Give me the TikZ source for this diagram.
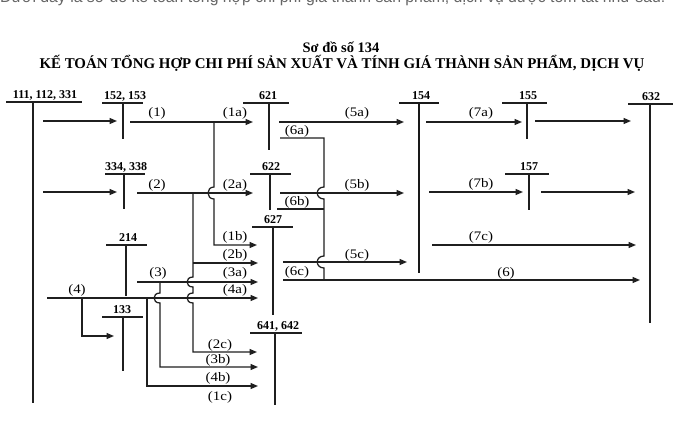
\documentclass[tikz,border=0pt]{standalone}
\usepackage{fontspec}
\setmainfont{Liberation Serif}
\newfontfamily\labfont{Liberation Serif}[FakeStretch=1.15]
\newfontfamily\acfont{Liberation Serif}
\newfontfamily\topfont{Liberation Sans}
\usetikzlibrary{arrows.meta}
\begin{document}
\begin{tikzpicture}[x=1pt,y=-1pt,
  ln/.style={line width=1.25pt, draw=black!88},
  thickln/.style={line width=2.4pt, draw=black!90},
  arr/.style={ln,-{Triangle[length=7.5pt,width=6pt]}},
  lab/.style={font=\labfont\fontsize{13}{13}\selectfont, inner sep=0pt},
  acc/.style={font=\acfont\bfseries\fontsize{12}{12}\selectfont, inner sep=0pt, anchor=base},
  ttl/.style={inner sep=0pt}]
\useasboundingbox (0,0) rectangle (683,423);
\fill[white] (0,0) rectangle (683,423);

% cut-off caption line at the top
\begin{scope}
\clip (0,0) rectangle (683,7);
\node[anchor=base west, inner sep=0pt, text=black!60, font=\topfont\fontsize{15.8}{15.8}\selectfont] (cap) at (0,2.5) {Dưới đây là sơ đồ kế toán tổng hợp chi phí giá thành sản phẩm, dịch vụ được tóm tắt như sau:};
\end{scope}

% titles
\node[ttl, font=\bfseries\fontsize{14.5}{14.5}\selectfont] (t1) at (341,47) {Sơ đồ số 134};
\node[ttl, font=\bfseries\fontsize{14.9}{14.9}\selectfont] (t2) at (342,63) {KẾ TOÁN TỔNG HỢP CHI PHÍ SẢN XUẤT VÀ TÍNH GIÁ THÀNH SẢN PHẨM, DỊCH VỤ};

% ---- T accounts
\node[acc] (a111) at (45,98) {111, 112, 331};
\draw[ln] (6,102) -- (82,102) (33,102) -- (33,403);
\node[acc] (a152) at (125,99) {152, 153};
\draw[ln] (102,103) -- (143,103) (123,103) -- (123,139);
\node[acc] (a334) at (126,170) {334, 338};
\draw[ln] (105,174) -- (145,174) (124,174) -- (124,209);
\node[acc] (a214) at (128,241) {214};
\draw[ln] (106,245) -- (147,245) (126,245) -- (126,296);
\node[acc] (a133) at (122,313) {133};
\draw[ln] (102,317) -- (143,317) (123,317) -- (123,371);
\node[acc] (a621) at (268,99) {621};
\draw[ln] (243,103) -- (289,103) (269,103) -- (269,150);
\node[acc] (a622) at (271,170) {622};
\draw[ln] (250,174) -- (291,174) (270,174) -- (270,210);
\node[acc] (a627) at (273,223) {627};
\draw[ln] (252,227) -- (293,227) (273,227) -- (273,315);
\node[acc] (a641) at (278,329) {641, 642};
\draw[ln] (250,333) -- (302,333) (275,333) -- (275,405);
\node[acc] (a154) at (421,99) {154};
\draw[thickln] (399,103) -- (439,103) (419,103) -- (419,273);
\node[acc] (a155) at (528,99) {155};
\draw[ln] (502,103) -- (547,103) (527,103) -- (527,139);
\node[acc] (a157) at (529,170) {157};
\draw[ln] (505,174) -- (549,174) (529,174) -- (529,210);
\node[acc] (a632) at (651,100) {632};
\draw[ln] (628,104) -- (673,104) (650,104) -- (650,323);

% ---- left side flows
\draw[arr] (43,121) -- (117,121);
\draw[arr] (43,192) -- (117,192);
% (1)
\draw[arr] (130,122) -- (253,122);
\draw[arr] (214,122) -- (214,187) .. controls (206,187) and (206,199) .. (214,199) -- (214,245) -- (257,245);
% (2)
\draw[arr] (137,193) -- (253,193);
\draw[arr] (193,193) -- (193,277) .. controls (185,277) and (185,287) .. (193,287) -- (193,293) .. controls (185,293) and (185,303) .. (193,303) -- (193,352) -- (257,352);
\draw[arr] (193,263) -- (258,263);
% (3)
\draw[arr] (137,282) -- (258,282);
\draw[arr] (160,282) -- (160,293) .. controls (152,293) and (152,303) .. (160,303) -- (160,367) -- (258,367);
% (4)
\draw[arr] (47,298) -- (258,298);
\draw[arr] (82,298) -- (82,336) -- (114,336);
\draw[arr] (147,298) -- (147,386) -- (258,386);

\node[lab] (l1) at (157,113) {(1)};
\node[lab] (l1a) at (235,113) {(1a)};
\node[lab] (l1b) at (235,237) {(1b)};
\node[lab] (l2) at (157,185) {(2)};
\node[lab] (l2a) at (235,185) {(2a)};
\node[lab] (l2b) at (235,255) {(2b)};
\node[lab] (l2c) at (220,345) {(2c)};
\node[lab] (l3) at (158,273) {(3)};
\node[lab] (l3a) at (235,273) {(3a)};
\node[lab] (l3b) at (218,360) {(3b)};
\node[lab] (l4) at (77,290) {(4)};
\node[lab] (l4a) at (235,290) {(4a)};
\node[lab] (l4b) at (218,378) {(4b)};
\node[lab] (l1c) at (220,397) {(1c)};

% ---- middle flows
\draw[arr] (279,122) -- (404,122);
\draw[arr] (280,193) -- (404,193);
\draw[arr] (283,262) -- (407,262);
\draw[ln] (280,138) -- (324,138) -- (324,187) .. controls (315,187) and (315,199) .. (324,199) -- (324,256) .. controls (315,256) and (315,268) .. (324,268) -- (324,280);
\draw[ln] (277,209) -- (324,209);
\draw[arr] (283,280) -- (640,280);

\node[lab] (l5a) at (357,113) {(5a)};
\node[lab] (l5b) at (357,185) {(5b)};
\node[lab] (l5c) at (357,255) {(5c)};
\node[lab] (l6a) at (297,131) {(6a)};
\node[lab] (l6b) at (297,202) {(6b)};
\node[lab] (l6c) at (297,272) {(6c)};
\node[lab] (l6) at (506,273) {(6)};

% ---- right flows
\draw[arr] (426,122) -- (522,122);
\draw[arr] (535,121) -- (631,121);
\draw[arr] (429,192) -- (523,192);
\draw[arr] (541,192) -- (635,192);
\draw[arr] (432,245) -- (636,245);
\node[lab] (l7a) at (481,113) {(7a)};
\node[lab] (l7b) at (481,184) {(7b)};
\node[lab] (l7c) at (481,237) {(7c)};
\end{tikzpicture}
\end{document}
